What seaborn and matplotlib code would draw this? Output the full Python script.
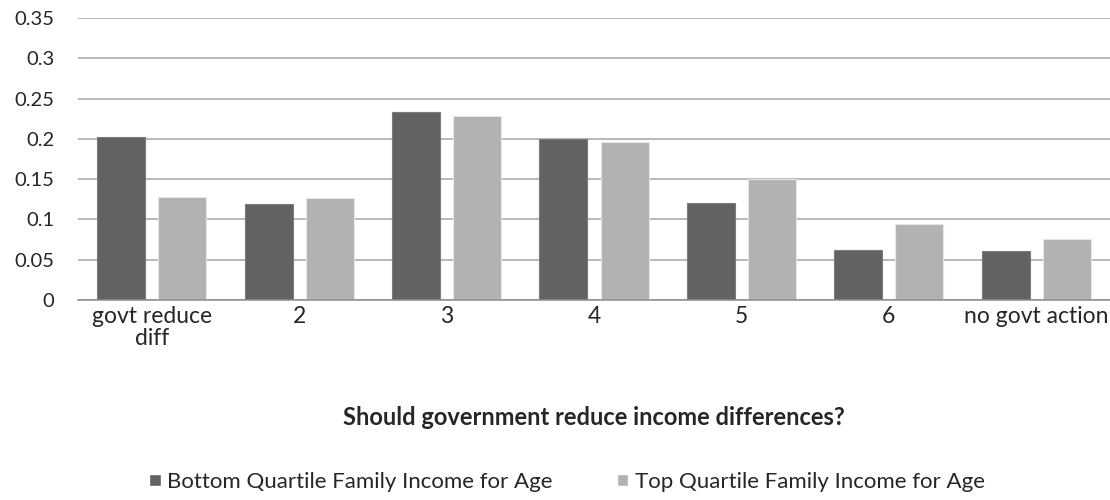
import matplotlib
matplotlib.use("Agg")
import matplotlib.pyplot as plt
import seaborn as sns
import pandas as pd

categories = ["govt reduce\ndiff", "2", "3", "4", "5", "6", "no govt action"]
bottom_quartile = [0.202, 0.119, 0.233, 0.200, 0.121, 0.062, 0.061]
top_quartile = [0.128, 0.126, 0.228, 0.196, 0.150, 0.094, 0.076]
series_names = ["Bottom Quartile Family Income for Age",
                "Top Quartile Family Income for Age"]
y_ticks = [0, 0.05, 0.1, 0.15, 0.2, 0.25, 0.3, 0.35]
y_tick_labels = ["0", "0.05", "0.1", "0.15", "0.2", "0.25", "0.3", "0.35"]

df = pd.DataFrame({
    "category": categories * 2,
    "value": bottom_quartile + top_quartile,
    "series": [series_names[0]] * len(categories) + [series_names[1]] * len(categories),
})

sns.set_style("white")
plt.rcParams["font.family"] = ["Lato", "DejaVu Sans"]
text_color = "#262626"

fig = plt.figure(figsize=(11.1, 5.0), dpi=100)
ax = fig.add_axes([0.0703, 0.40, 0.9297, 0.564])

palette = {series_names[0]: "#626262", series_names[1]: "#b2b2b2"}
sns.barplot(data=df, x="category", y="value", hue="series", order=categories,
            hue_order=series_names, palette=palette, width=0.83, gap=0.215,
            saturation=1.0, ax=ax, legend=True)

edge_cols = ["#7c7c7c", "#e6e6e6"]
for cont, ec in zip(ax.containers, edge_cols):
    for bar in cont:
        bar.set_edgecolor(ec)
        bar.set_linewidth(0.8)

ax.set_ylim(0, 0.35)
ax.set_xlim(-0.5, len(categories) - 0.5)
ax.set_yticks(y_ticks)
ax.set_yticklabels(y_tick_labels)
ax.yaxis.grid(True, color="#a6a6a6", linewidth=1.1)
ax.set_axisbelow(True)
for side in ["left", "right", "top"]:
    ax.spines[side].set_visible(False)
ax.spines["bottom"].set_color("#8c8c8c")
ax.spines["bottom"].set_linewidth(1.1)
ax.tick_params(axis="y", length=0, labelsize=14.5, colors=text_color, pad=17)
ax.tick_params(axis="x", length=0, labelsize=16.5, colors=text_color, pad=4.5)
for lbl in ax.get_yticklabels():
    lbl.set_horizontalalignment("right")
for lbl in ax.get_xticklabels():
    lbl.set_linespacing(1.05)

ax.set_ylabel("")
ax.set_xlabel("Should government reduce income differences?", fontsize=17,
              fontweight="bold", color=text_color, va="center")
ax.xaxis.set_label_coords(0.5, -0.418)

handles, labels = ax.get_legend_handles_labels()
ax.get_legend().remove()
fig.legend(handles, labels, loc="center", bbox_to_anchor=(0.511, 0.036), ncol=2,
           frameon=False, fontsize=16, handlelength=0.5, handleheight=0.5,
           handletextpad=0.3, columnspacing=2.9, labelcolor=text_color,
           borderaxespad=0, borderpad=0)

fig.savefig("out.png", dpi=100)
